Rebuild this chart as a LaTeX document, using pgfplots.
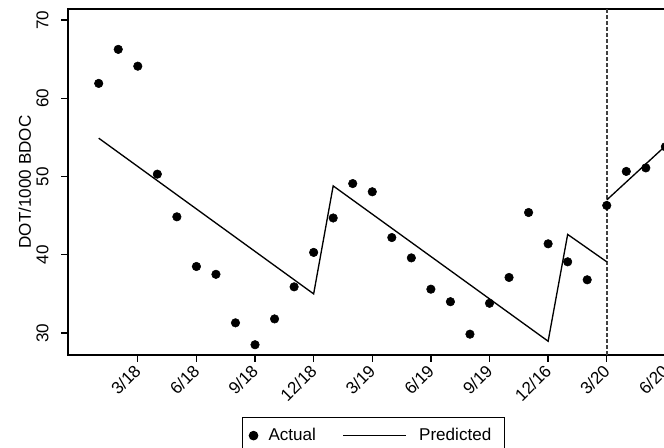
\documentclass[border=0pt]{standalone}
\usepackage{fontspec}
\setmainfont{Liberation Sans}
\usepackage{pgfplots}
\pgfplotsset{compat=1.18}
\pgfplotsset{
  actimg/.style={legend image code/.code={\path[draw=none,fill=none] (0pt,-3pt) rectangle (8pt,3pt); \draw[##1] plot coordinates {(4pt,0pt)};}},
  predimg/.style={legend image code/.code={\path[draw=none,fill=none] (0pt,0pt) -- (49.75pt,0pt); \draw[##1] (0pt,0pt) -- (47.25pt,0pt);}},
}
\begin{document}
\begin{tikzpicture}
\useasboundingbox (0,0) rectangle (498pt,336pt);
\clip (0,0) rectangle (498pt,336pt);
\begin{axis}[
  at={(51.225pt,69.75pt)}, anchor=south west,
  scale only axis, width=623.66pt, height=259.5pt,
  xmin=-0.556, xmax=42, ymin=27.19, ymax=71.41,
  axis line style={line width=1.3pt},
  tick pos=left, tick align=outside, major tick length=5.25pt,
  tick style={line width=1pt, black},
  xtick={3,6,9,12,15,18,21,24,27,30},
  xticklabels={3/18,6/18,9/18,12/18,3/19,6/19,9/19,12/16,3/20,6/20},
  ytick={30,40,50,60,70},
  /pgf/number format/assume math mode=true,
  tick label style={font=\fontsize{12.8}{15}\selectfont},
  xticklabel style={rotate=45, anchor=east, inner sep=0pt},
  xticklabel shift=4.5pt,
  yticklabel style={rotate=90, anchor=base, inner sep=0pt},
  yticklabel shift=9.6pt,
  ylabel={DOT/1000 BDOC},
  ylabel style={at={(axis description cs:-0.0450,0.5)}, anchor=base, font=\fontsize{12.8}{15}\selectfont},
  legend columns=2,
  legend style={at={(axis description cs:0.20889,-0.1799)}, anchor=north west,
    draw=black, line width=0.8pt, inner xsep=4.25pt, inner ysep=8pt,
    nodes={inner sep=0pt, font=\fontsize{12.8}{15}\selectfont},
    /tikz/every odd column/.append style={column sep=7.25pt},
    /tikz/every even column/.append style={column sep=19.9pt}},
]
\addplot[forget plot, black!75, line width=1.2pt, dash pattern=on 3pt off 1.5pt] coordinates {(27,27.19) (27,71.41)};
\addplot[only marks, mark=*, mark size=3.2pt, black, actimg]
  coordinates {(1,61.9) (2,66.25) (3,64.1) (4,50.3) (5,44.85) (6,38.5) (7,37.5) (8,31.3) (9,28.5) (10,31.8)
  (11,35.9) (12,40.3) (13,44.7) (14,49.1) (15,48.05) (16,42.2) (17,39.6) (18,35.6) (19,34.0) (20,29.85)
  (21,33.8) (22,37.1) (23,45.4) (24,41.4) (25,39.1) (26,36.8) (27,46.3) (28,50.65) (29,51.1) (30,53.8)};
\addlegendentry{Actual}
\addplot[black, line width=1pt, mark=none, predimg]
  coordinates {(1,54.9) (12,35.0) (13,48.8) (24,28.95) (25,42.6) (27,39.1)};
\addlegendentry{Predicted\hspace*{5.45pt}}
\addplot[forget plot, black, line width=1pt, mark=none] coordinates {(27,47.0) (30,53.9)};
\end{axis}
\end{tikzpicture}
\end{document}
